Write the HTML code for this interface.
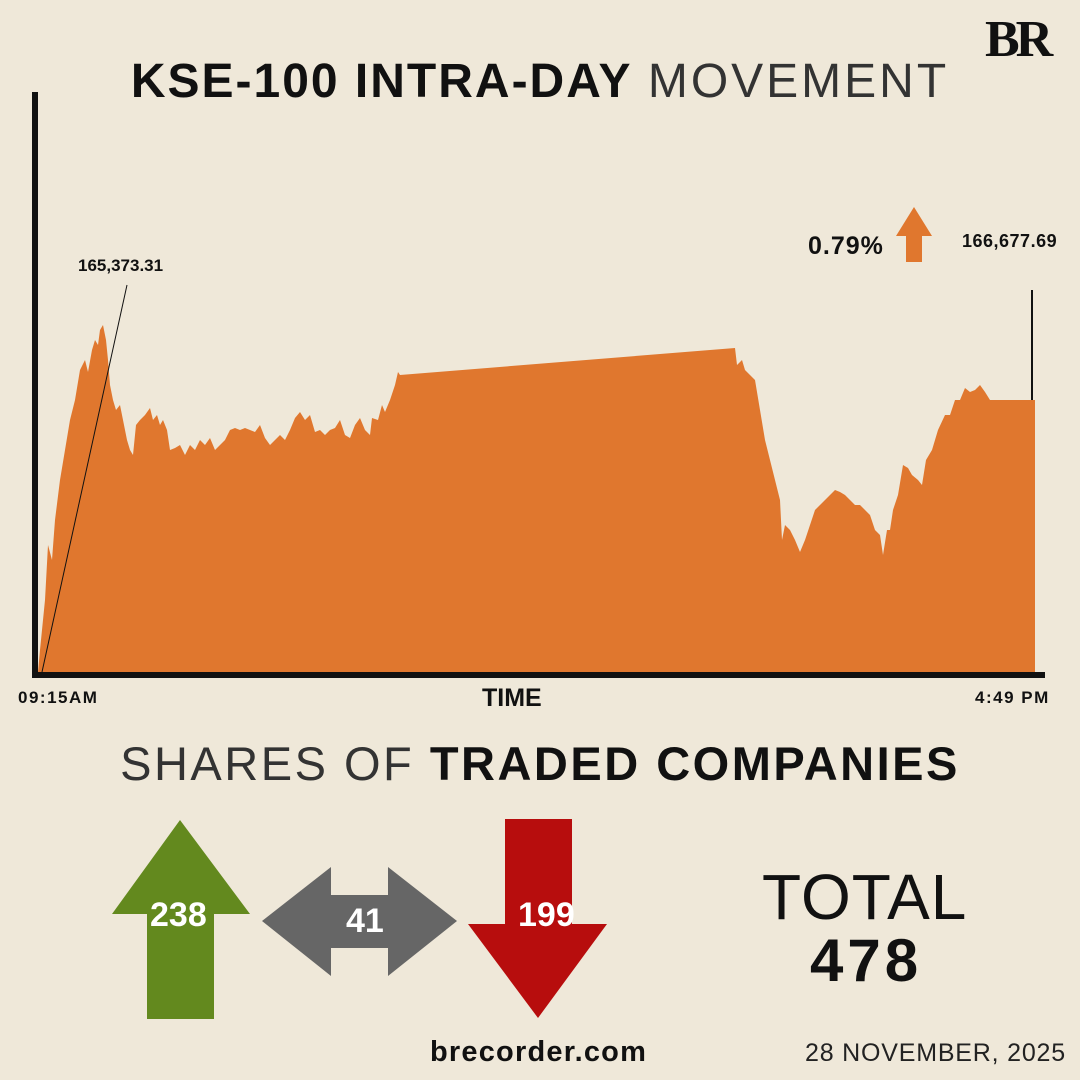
<!DOCTYPE html>
<html><head><meta charset="utf-8"><style>
html,body{margin:0;padding:0;background:#efe8d9;}
body{width:1080px;height:1080px;position:relative;overflow:hidden;font-family:"Liberation Sans",sans-serif;color:#111;}
.t{position:absolute;white-space:nowrap;}
</style></head><body>
<svg width="1080" height="1080" style="position:absolute;left:0;top:0">
<polygon fill="#e0772e" points="38,672 40,650 45,600 48,545 52,560 55,520 60,480 65,450 70,420 75,400 80,370 85,360 88,372 92,350 95,340 98,345 100,330 103,325 106,340 108,360 110,385 113,400 116,410 120,405 123,420 127,440 130,450 133,455 136,425 140,420 145,415 150,408 153,420 157,415 160,425 163,420 167,430 170,450 175,448 180,445 185,455 190,445 195,450 200,440 205,445 210,438 215,450 220,445 225,440 230,430 235,428 240,430 245,428 250,430 255,432 260,425 265,438 270,445 275,440 280,435 285,440 290,430 295,418 300,412 305,420 310,415 315,432 320,430 325,435 330,430 335,428 340,420 345,435 350,438 355,425 360,418 365,430 370,435 372,418 378,420 382,405 385,412 390,400 395,385 398,372 400,375 735,348 737,365 742,360 745,370 750,375 755,380 760,410 765,440 770,460 775,480 780,500 782,540 785,525 790,530 795,540 800,552 805,540 810,525 815,510 820,505 825,500 830,495 835,490 840,492 845,495 850,500 855,505 860,505 865,510 870,515 875,530 880,535 883,555 887,530 890,530 893,510 898,495 903,465 908,468 912,475 918,480 922,485 926,460 932,450 938,430 945,415 950,415 955,400 960,400 965,388 970,392 975,390 980,385 985,392 990,400 995,400 1035,400 1035,672"/>
<rect x="32" y="92" width="6" height="586" fill="#111"/>
<rect x="32" y="672" width="1013" height="6" fill="#111"/>
<line x1="1032" y1="290" x2="1032" y2="400" stroke="#111" stroke-width="2"/>
<line x1="42" y1="672" x2="127" y2="285" stroke="#111" stroke-width="1"/>
<polygon fill="#e0772e" points="914,207 896,236 906,236 906,262 922,262 922,236 932,236"/>
<polygon fill="#63891e" points="180,820 250,914 214,914 214,1019 147,1019 147,914 112,914"/>
<polygon fill="#666" points="262,921 331,867 331,895 388,895 388,867 457,921 388,976 388,948 331,948 331,976"/>
<polygon fill="#b70d0d" points="505,819 572,819 572,924 607,924 538,1018 468,924 505,924"/>
</svg>
<div class="t" style="left:985px;top:10px;font-family:'Liberation Serif',serif;font-weight:bold;font-size:52px;letter-spacing:-4px">BR</div>
<div class="t" style="left:0;width:1080px;top:54px;text-align:center;font-size:48px;letter-spacing:2px"><b>KSE-100 INTRA-DAY</b> <span style="font-weight:normal;letter-spacing:3px;color:#333">MOVEMENT</span></div>
<div class="t" style="left:78px;top:256px;font-size:17px;font-weight:bold">165,373.31</div>
<div class="t" style="left:962px;top:231px;font-size:18px;font-weight:bold;letter-spacing:0.5px">166,677.69</div>
<div class="t" style="left:808px;top:232px;font-size:25px;font-weight:bold;letter-spacing:1px">0.79%</div>
<div class="t" style="left:18px;top:688px;font-size:17px;font-weight:bold;letter-spacing:1.5px">09:15AM</div>
<div class="t" style="left:975px;top:688px;font-size:17px;font-weight:bold;letter-spacing:1.5px">4:49 PM</div>
<div class="t" style="left:482px;top:684px;font-size:25px;font-weight:bold">TIME</div>
<div class="t" style="left:0;width:1080px;top:736px;text-align:center;font-size:47px;letter-spacing:2.5px"><span style="font-weight:normal;color:#333">SHARES OF</span> <b>TRADED COMPANIES</b></div>
<div class="t" style="left:150px;top:896px;font-size:34px;font-weight:bold;color:#fff">238</div>
<div class="t" style="left:346px;top:902px;font-size:34px;font-weight:bold;color:#fff">41</div>
<div class="t" style="left:518px;top:896px;font-size:34px;font-weight:bold;color:#fff">199</div>
<div class="t" style="left:762px;top:860px;font-size:64px;color:#111;letter-spacing:1px">TOTAL</div>
<div class="t" style="left:810px;top:926px;font-size:60px;font-weight:bold;letter-spacing:4px">478</div>
<div class="t" style="left:430px;top:1036px;font-size:29px;font-weight:bold;letter-spacing:1.2px">brecorder.com</div>
<div class="t" style="left:805px;top:1039px;font-size:25px;color:#222;letter-spacing:0.8px">28 NOVEMBER, 2025</div>
</body></html>
